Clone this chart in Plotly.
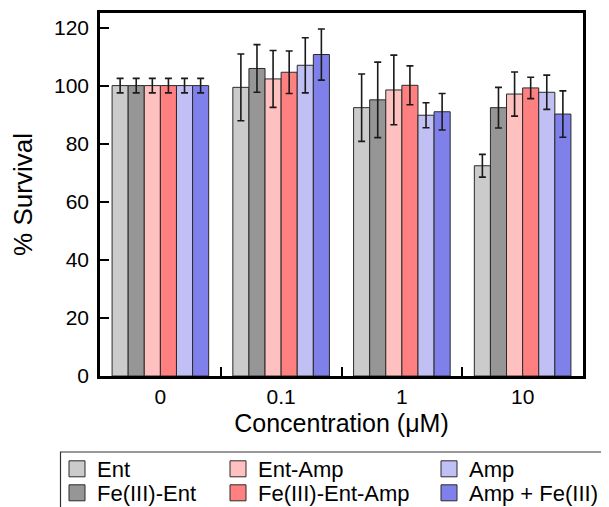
import plotly.graph_objects as go

categories = ["0", "0.1", "1", "10"]
series_names = ["Ent", "Fe(III)-Ent", "Ent-Amp", "Fe(III)-Ent-Amp", "Amp", "Amp + Fe(III)"]
colors = ["#cbcbcb", "#969696", "#ffc0c0", "#ff8080", "#c0c0f4", "#8080ea"]

ent = [100, 99.4, 92.4, 72.4]
fe_ent = [100, 105.9, 95.1, 92.4]
ent_amp = [100, 102.3, 98.5, 97.1]
fe_ent_amp = [100, 104.6, 100.1, 99.2]
amp = [100, 107.0, 89.8, 97.7]
amp_fe = [100, 110.7, 91.0, 90.2]

ent_err = [2.5, 11.5, 11.6, 3.9]
fe_ent_err = [2.5, 8.2, 13.0, 7.0]
ent_amp_err = [2.5, 9.8, 12.0, 7.6]
fe_ent_amp_err = [2.5, 7.3, 6.7, 3.7]
amp_err = [2.5, 9.5, 4.3, 5.9]
amp_fe_err = [2.5, 8.8, 6.3, 8.0]

values = [ent, fe_ent, ent_amp, fe_ent_amp, amp, amp_fe]
errors = [ent_err, fe_ent_err, ent_amp_err, fe_ent_amp_err, amp_err, amp_fe_err]

FONT = "Arial, Liberation Sans, sans-serif"

# page has an 8px body margin: figure is sized/positioned to fill the window
OFF = 8
W, H = 609 - OFF, 507 - OFF
L, R, T, B = 92, 26, 5, 131
pw = W - L - R
ph = H - T - B


def px_x(sx):
    return (sx - OFF - L) / pw


def px_y(sy):
    return (H - B - (sy - OFF)) / ph


fig = go.Figure()
for name, vals, errs, col in zip(series_names, values, errors, colors):
    fig.add_trace(go.Bar(
        x=categories, y=vals, name=name, showlegend=False,
        marker=dict(color=col, line=dict(color="#2a2a2a", width=1)),
        error_y=dict(type="data", array=errs, visible=True,
                     color="#1a1a1a", thickness=1.6, width=3.5),
    ))

# legend layout: 3 columns x 2 rows, one legend per entry
col_x = [49 + OFF, 210 + OFF, 421 + OFF]     # screen px of legend left edges
row_top = [440 + OFF, 464 + OFF]              # screen px of legend top edges
legend_ids = ["legend", "legend2", "legend3", "legend4", "legend5", "legend6"]
legend_layout = {}
for i, (name, col) in enumerate(zip(series_names, colors)):
    c, r = i // 2, i % 2
    lg = legend_ids[i]
    fig.add_trace(go.Scatter(
        x=[None], y=[None], mode="markers", name=name, legend=lg,
        marker=dict(symbol="square", size=16, color=col,
                    line=dict(color="#2a2a2a", width=1)),
    ))
    legend_layout[lg] = dict(
        x=px_x(col_x[c]), y=px_y(row_top[r]), orientation="v",
        xanchor="left", yanchor="top", bgcolor="rgba(0,0,0,0)", borderwidth=0,
        font=dict(family=FONT, size=22, color="#000"), itemsizing="trace",
    )

fig.update_layout(
    width=W, height=H,
    margin=dict(l=L, r=R, t=T, b=B, autoexpand=False),
    paper_bgcolor="white", plot_bgcolor="white",
    barmode="group", bargap=0.2, bargroupgap=0,
    font=dict(family=FONT, size=20, color="#000"),
    shapes=[dict(type="rect", xref="paper", yref="paper",
                 x0=px_x(60.5), x1=px_x(650), y0=px_y(452), y1=px_y(560),
                 line=dict(color="#333", width=1.2), fillcolor="rgba(0,0,0,0)")],
    **legend_layout,
)

fig.update_xaxes(
    type="category", range=[-0.5, 3.5],
    showline=True, linecolor="black", linewidth=2.5, mirror=True,
    ticks="inside", tickson="boundaries", ticklen=9, tickwidth=2, tickcolor="black",
    tickfont=dict(family=FONT, size=21, color="#000"),
    title=dict(text="Concentration (μM)", font=dict(family=FONT, size=25, color="#000"), standoff=8),
    showgrid=False, zeroline=False,
)
fig.update_yaxes(
    range=[0, 125], dtick=20, tick0=0,
    showline=True, linecolor="black", linewidth=2.5, mirror=True,
    ticks="inside", ticklen=9, tickwidth=2, tickcolor="black", ticklabelstandoff=4,
    tickfont=dict(family=FONT, size=21, color="#000"),
    title=dict(text="% Survival", font=dict(family=FONT, size=26, color="#000"), standoff=16),
    showgrid=False, zeroline=False,
)

fig.write_html("out.html")
